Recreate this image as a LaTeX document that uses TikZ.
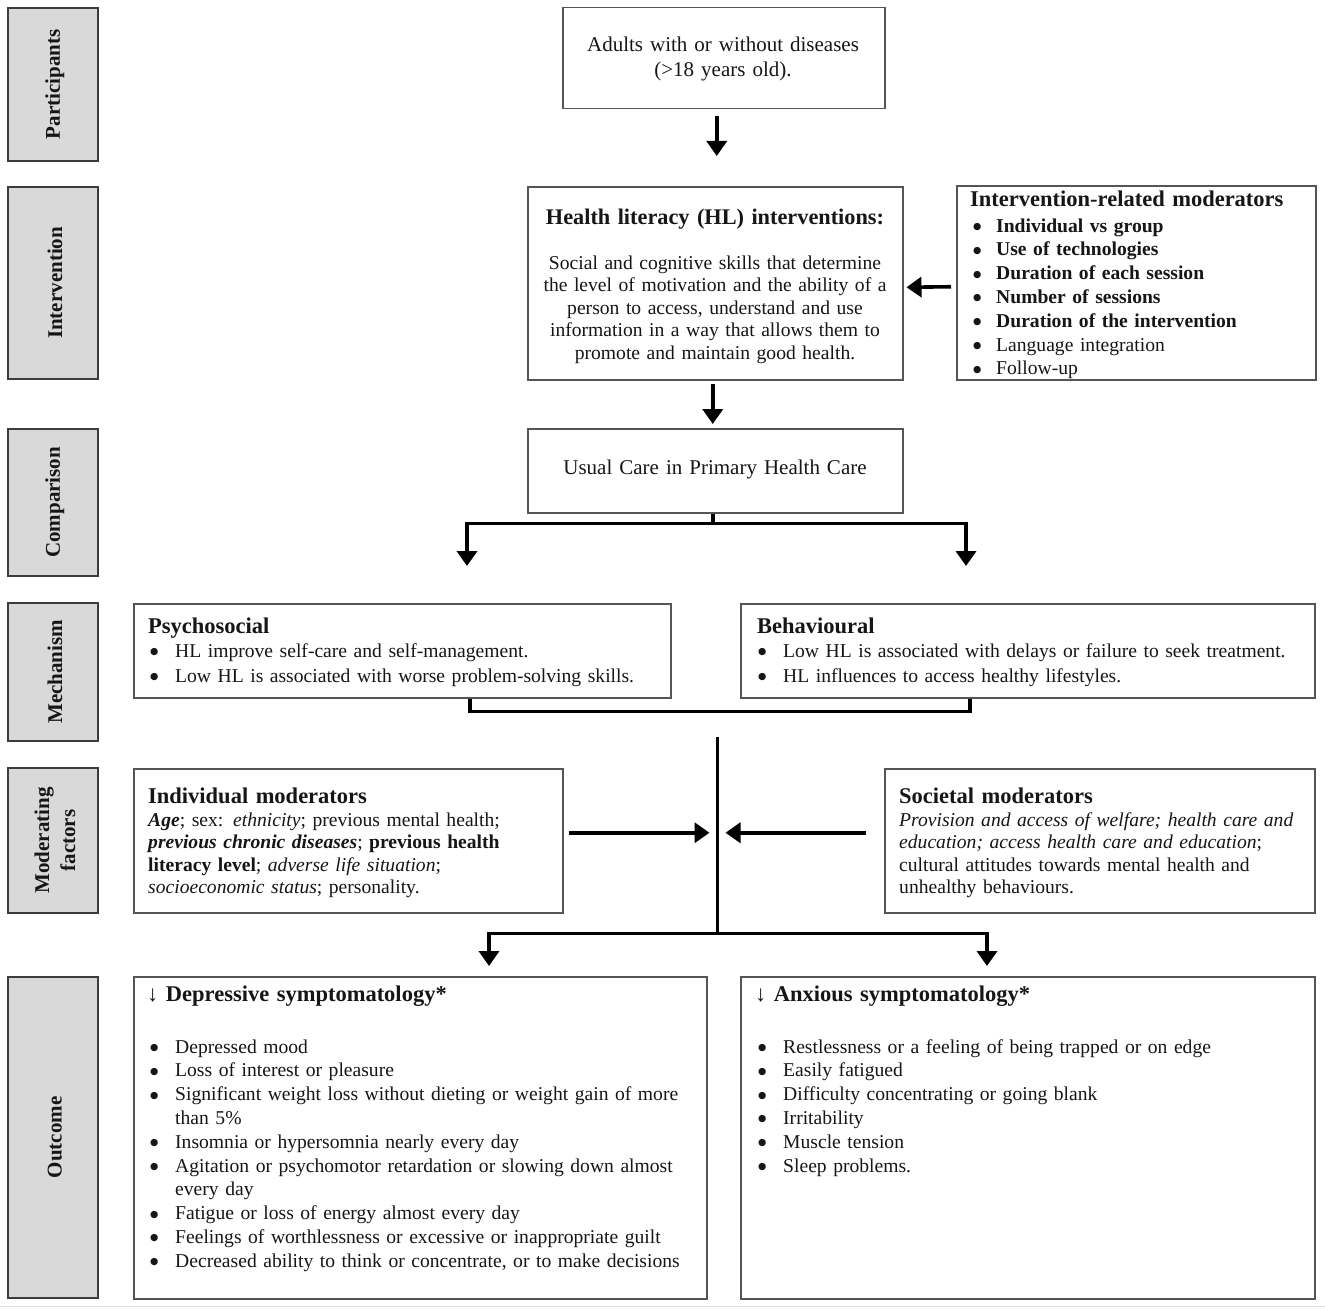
\documentclass[tikz,border=0pt]{standalone}
\usepackage{fontspec}
\setmainfont{Liberation Serif}
\newfontfamily\dvfont{DejaVu Sans}
\usetikzlibrary{arrows.meta,calc}
\definecolor{labgrey}{HTML}{D9D9D9}
\definecolor{labline}{HTML}{3C3C3C}
\definecolor{boxline}{HTML}{555555}
\definecolor{ink}{HTML}{161616}
\newcommand{\bigdot}{\raisebox{2.6pt}{{\dvfont\fontsize{9.5}{10}\selectfont ●}}}
\newcommand{\bul}{\makebox[25pt][l]{\bigdot}}
\newcommand{\bulw}{\makebox[24pt][l]{\hspace{1pt}\bigdot}}
\begin{document}
\begin{tikzpicture}[x=1pt,y=-1pt,
  lab/.style={draw=labline, fill=labgrey, line width=1.8pt, anchor=north west, inner sep=0pt},
  labtxt/.style={rotate=90, font=\fontsize{21}{26}\selectfont\bfseries, align=center, text=ink, inner sep=0pt},
  box/.style={draw=boxline, line width=1.5pt, anchor=north west, inner sep=0pt},
  txt/.style={anchor=base west, inner sep=0pt, align=left, text width=600pt, text=ink, font=\fontsize{19.6}{23.8}\selectfont},
  ctxt/.style={anchor=base, inner sep=0pt, align=center, text width=380pt, text=ink, font=\fontsize{19.6}{22.5}\selectfont},
  ttl/.style={anchor=base west, inner sep=0pt, align=left, text width=600pt, text=ink, font=\fontsize{22.5}{26}\selectfont\bfseries},
  conn/.style={line width=3.6pt, black, line join=miter},
  arr/.style={conn, -{Triangle[length=15pt,width=20pt]}},
  arr2/.style={conn, {Triangle[length=15pt,width=20pt]}-{Triangle[length=15pt,width=20pt]}},
]
\useasboundingbox (0,0) rectangle (1325,1311);
\fill[white] (0,0) rectangle (1325,1311);

% ---- left grey labels ----
\node[lab, minimum width=90, minimum height=153] (lp) at (7,7) {};
\node[lab, minimum width=90, minimum height=192] (li) at (7,186) {};
\node[lab, minimum width=90, minimum height=147] (lc) at (7,428) {};
\node[lab, minimum width=90, minimum height=138] (lm) at (7,602) {};
\node[lab, minimum width=90, minimum height=145] (lf) at (7,767) {};
\node[lab, minimum width=90, minimum height=321] (lo) at (7,976) {};
\node[labtxt] (tp) at ($(lp.center)+(2,0)$) {Participants};
\node[labtxt] (ti) at ($(li.center)+(2,0)$) {Intervention};
\node[labtxt] (tc) at ($(lc.center)+(2,0)$) {Comparison};
\node[labtxt] (tm) at ($(lm.center)+(2,0)$) {Mechanism};
\node[labtxt] (tf) at ($(lf.center)+(2,0)$) {Moderating\\factors};
\node[labtxt] (to) at ($(lo.center)+(2,0)$) {Outcome};

% ---- boxes ----
\node[box, minimum width=322, minimum height=101] (adults) at (562,7) {};
\node[box, minimum width=375, minimum height=193] (hl) at (527,186) {};
\node[box, minimum width=359, minimum height=194] (irm) at (956,185) {};
\node[box, minimum width=375, minimum height=84] (usual) at (527,428) {};
\node[box, minimum width=537, minimum height=94] (psy) at (133,603) {};
\node[box, minimum width=574, minimum height=94] (beh) at (740,603) {};
\node[box, minimum width=429, minimum height=144] (ind) at (133,768) {};
\node[box, minimum width=430, minimum height=144] (soc) at (884,768) {};
\node[box, minimum width=573, minimum height=322] (dep) at (133,976) {};
\node[box, minimum width=574, minimum height=322] (anx) at (740,976) {};

% ---- texts ----
\node[ctxt, font=\fontsize{21}{25}\selectfont] (adultsT) at (723,52) {Adults with or without diseases\\(>18 years old).};
\node[ctxt, font=\fontsize{22.3}{26}\selectfont\bfseries] (hlT) at (715,224) {Health literacy (HL) interventions:};
\node[ctxt] (hlB) at (715,269) {Social and cognitive skills that determine\\the level of motivation and the ability of a\\person to access, understand and use\\information in a way that allows them to\\promote and maintain good health.};

\node[ttl] (irmT) at (970,206) {Intervention-related moderators};
\node[txt] (irmB) at (972,232) {\bulw\textbf{Individual vs group}\\
\bulw\textbf{Use of technologies}\\
\bulw\textbf{Duration of each session}\\
\bulw\textbf{Number of sessions}\\
\bulw\textbf{Duration of the intervention}\\
\bulw Language integration\\
\bulw Follow-up};

\node[ctxt, font=\fontsize{21}{25}\selectfont] (usualT) at (715,474) {Usual Care in Primary Health Care};

\node[ttl] (psyT) at (148,633) {Psychosocial};
\node[txt, font=\fontsize{19.6}{25}\selectfont] (psyB) at (150,657) {\bul HL improve self-care and self-management.\\
\bul Low HL is associated with worse problem-solving skills.};

\node[ttl] (behT) at (757,633) {Behavioural};
\node[txt, font=\fontsize{19.6}{25}\selectfont] (behB) at (758,657) {\bul Low HL is associated with delays or failure to seek treatment.\\
\bul HL influences to access healthy lifestyles.};

\node[ttl] (indT) at (148,803) {Individual moderators};
\node[txt, font=\fontsize{19.6}{22.5}\selectfont] (indB) at (148,826) {\textbf{\textit{Age}}; sex: \textit{ethnicity}; previous mental health;\\
\textbf{\textit{previous chronic diseases}}; \textbf{previous health}\\
\textbf{literacy level}; \textit{adverse life situation};\\
\textit{socioeconomic status}; personality.};

\node[ttl] (socT) at (899,803) {Societal moderators};
\node[txt, font=\fontsize{19.6}{22.5}\selectfont] (socB) at (899,826) {\textit{Provision and access of welfare; health care and}\\
\textit{education; access health care and education};\\
cultural attitudes towards mental health and\\
unhealthy behaviours.};

\node[ttl] (depT) at (147,1001) {{\mdseries ↓} Depressive symptomatology*};
\node[txt] (depB) at (150,1053) {\bul Depressed mood\\
\bul Loss of interest or pleasure\\
\bul Significant weight loss without dieting or weight gain of more\\
\hspace*{25pt}than 5\%\\
\bul Insomnia or hypersomnia nearly every day\\
\bul Agitation or psychomotor retardation or slowing down almost\\
\hspace*{25pt}every day\\
\bul Fatigue or loss of energy almost every day\\
\bul Feelings of worthlessness or excessive or inappropriate guilt\\
\bul Decreased ability to think or concentrate, or to make decisions};

\node[ttl] (anxT) at (755,1001) {{\mdseries ↓} Anxious symptomatology*};
\node[txt] (anxB) at (758,1053) {\bul Restlessness or a feeling of being trapped or on edge\\
\bul Easily fatigued\\
\bul Difficulty concentrating or going blank\\
\bul Irritability\\
\bul Muscle tension\\
\bul Sleep problems.};

% ---- connectors ----
\draw[arr] ($(adults.south)+(-7,7)$) -- ($(hl.north)+(1.5,-30)$);
\draw[arr] ($(irm.west)+(-5,4)$) -- ($(hl.east)+(3,4)$);
\draw[arr] ($(hl.south)+(-2.5,3)$) -- ($(usual.north)+(-2.5,-4)$);

\coordinate (brC) at ($(usual.south)+(-2.5,10)$);
\draw[conn] ($(usual.south)+(-2.5,0)$) -- (brC);
\coordinate (tipL) at ($(psy.north west)+(334,-37)$);
\coordinate (tipR) at ($(beh.north west)+(226,-37)$);
\draw[arr2] (tipL) -- (tipL |- brC) -- (tipR |- brC) -- (tipR);

\draw[conn] ($(psy.south west)+(337,0)$) -- ++(0,13) -| ($(beh.south west)+(230,0)$);

\coordinate (vtop) at ($(ind.north east)+(154,-31)$);
\coordinate (vbot) at ($(ind.south east)+(154,20)$);
\draw[conn, line cap=butt] (vtop) -- (vbot);
\draw[arr] ($(ind.east)+(5,-8)$) -- ($(vtop |- ind.east)+(-8,-8)$);
\draw[arr] ($(soc.west)+(-18,-8)$) -- ($(vtop |- soc.west)+(8,-8)$);

\coordinate (oL) at ($(dep.north west)+(356,-10)$);
\coordinate (oR) at ($(anx.north west)+(247,-10)$);
\draw[arr2] (oL) -- (oL |- vbot) -- (oR |- vbot) -- (oR);

\draw[black!12, line width=1pt] (0,1306) -- (1325,1306);
\end{tikzpicture}
\end{document}
